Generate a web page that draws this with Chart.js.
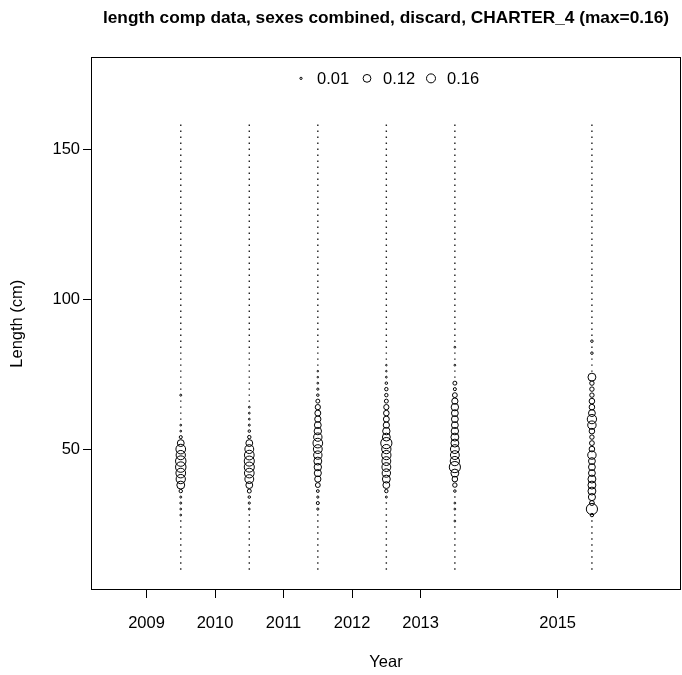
<!DOCTYPE html>
<html>
<head>
<title>length comp data, sexes combined, discard, CHARTER_4</title>
<script src="https://cdn.jsdelivr.net/npm/chart.js"></script>
<style>
  body { margin: 0; background: #fff; }
</style>
</head>
<body>
<canvas id="comp-chart" width="682" height="675"></canvas>
<script>
// bubble columns (x position of each year's column)
const years = [2009.5, 2010.5, 2011.5, 2012.5, 2013.5, 2015.5];
const yearTicks = [2009, 2010, 2011, 2012, 2013, 2015];
const lengthTicks = [50, 100, 150];
const lengthBins = [10, 12, 14, 16, 18, 20, 22, 24, 26, 28, 30, 32, 34, 36, 38, 40, 42, 44, 46, 48,
  50, 52, 54, 56, 58, 60, 62, 64, 66, 68, 70, 72, 74, 76, 78, 80, 82, 84, 86, 88,
  90, 92, 94, 96, 98, 100, 102, 104, 106, 108, 110, 112, 114, 116, 118, 120, 122, 124, 126, 128,
  130, 132, 134, 136, 138, 140, 142, 144, 146, 148, 150, 152, 154, 156, 158];

// non-zero observations per year
const len2009 = [28, 30, 32, 34, 36, 38, 40, 42, 44, 46, 48, 50, 52, 54, 56, 58, 68];
const comp2009 = [0.004, 0.004, 0.005, 0.005, 0.015, 0.08, 0.11, 0.12, 0.14, 0.14, 0.11, 0.12, 0.06, 0.012, 0.004, 0.004, 0.005];

const len2010 = [30, 32, 34, 36, 38, 40, 42, 44, 46, 48, 50, 52, 54, 56, 58, 60, 62, 64];
const comp2010 = [0.004, 0.006, 0.008, 0.02, 0.06, 0.10, 0.12, 0.13, 0.13, 0.12, 0.10, 0.06, 0.015, 0.008, 0.005, 0.004, 0.004, 0.004];

const len2011 = [30, 32, 34, 36, 38, 40, 42, 44, 46, 48, 50, 52, 54, 56, 58, 60, 62, 64, 66, 68, 70, 72, 74, 76];
const comp2011 = [0.006, 0.012, 0.006, 0.01, 0.03, 0.05, 0.065, 0.07, 0.08, 0.09, 0.10, 0.12, 0.09, 0.07, 0.06, 0.05, 0.045, 0.035, 0.02, 0.008, 0.006, 0.004, 0.003, 0.003];

const len2012 = [34, 36, 38, 40, 42, 44, 46, 48, 50, 52, 54, 56, 58, 60, 62, 64, 66, 68, 70, 72, 74, 76, 78];
const comp2012 = [0.005, 0.015, 0.06, 0.08, 0.09, 0.10, 0.10, 0.11, 0.11, 0.16, 0.08, 0.07, 0.05, 0.045, 0.04, 0.035, 0.02, 0.015, 0.015, 0.008, 0.004, 0.003, 0.003];

const len2013 = [26, 30, 32, 36, 38, 40, 42, 44, 46, 48, 50, 52, 54, 56, 58, 60, 62, 64, 66, 68, 70, 72, 78, 84];
const comp2013 = [0.004, 0.004, 0.004, 0.008, 0.025, 0.04, 0.08, 0.16, 0.11, 0.10, 0.10, 0.08, 0.08, 0.07, 0.06, 0.06, 0.06, 0.07, 0.05, 0.03, 0.012, 0.02, 0.004, 0.004];

const len2015 = [28, 30, 32, 34, 36, 38, 40, 42, 44, 46, 48, 50, 52, 54, 56, 58, 60, 62, 64, 66, 68, 70, 72, 74, 82, 86];
const comp2015 = [0.015, 0.16, 0.03, 0.065, 0.08, 0.08, 0.08, 0.06, 0.06, 0.06, 0.09, 0.04, 0.03, 0.025, 0.04, 0.09, 0.11, 0.06, 0.04, 0.04, 0.025, 0.025, 0.025, 0.08, 0.008, 0.008];

const legendValues = [0.01, 0.12, 0.16];
const maxComp = 0.16;

const obsLengths = [len2009, len2010, len2011, len2012, len2013, len2015];
const obsComps = [comp2009, comp2010, comp2011, comp2012, comp2013, comp2015];

function bubbleRadius(v, maxR) {
    return maxR * Math.sqrt(v / maxComp);
}

// zero bins drawn as small dots, observed bins as open circles
const zeroPoints = [];
const bubblePoints = [];
years.forEach((yr, i) => {
    lengthBins.forEach(len => {
        if (!obsLengths[i].includes(len)) zeroPoints.push({ x: yr, y: len });
    });
    obsLengths[i].forEach((len, j) => {
        bubblePoints.push({ x: yr, y: len, r: bubbleRadius(obsComps[i][j], 5.6) });
    });
});

const FONT = "'Liberation Sans', Arial, sans-serif";

// box around the plot region
const frame = {
    id: 'frame',
    afterDraw(chart) {
        const { ctx, chartArea: a } = chart;
        ctx.save();
        ctx.strokeStyle = '#000';
        ctx.lineWidth = 1;
        ctx.strokeRect(Math.round(a.left) + 0.5, Math.round(a.top) + 0.5,
            Math.round(a.right - a.left) - 1, Math.round(a.bottom - a.top) - 1);
        ctx.restore();
    }
};

// bubble size legend at the top of the plot
const sizeLegend = {
    id: 'sizeLegend',
    afterDatasetsDraw(chart) {
        const { ctx, chartArea: a } = chart;
        const cx = (a.left + a.right) / 2;
        const y = a.top + 21;
        const offsets = [-85, -19, 45];
        ctx.save();
        ctx.font = '16.5px ' + FONT;
        ctx.fillStyle = '#000';
        ctx.strokeStyle = '#000';
        ctx.lineWidth = 1;
        ctx.textBaseline = 'middle';
        ctx.textAlign = 'left';
        legendValues.forEach((v, i) => {
            const px = cx + offsets[i];
            ctx.beginPath();
            ctx.arc(px, y, bubbleRadius(v, 4.5), 0, Math.PI * 2);
            ctx.stroke();
            ctx.fillText(String(v), px + 16, y + 1);
        });
        ctx.restore();
    }
};

const ctx = document.getElementById('comp-chart').getContext('2d');
new Chart(ctx, {
    type: 'bubble',
    data: {
        datasets: [
            {
                label: 'zero',
                data: zeroPoints,
                radius: 1,
                pointStyle: 'rect',
                backgroundColor: '#222',
                borderWidth: 0
            },
            {
                label: 'comp',
                data: bubblePoints,
                backgroundColor: 'rgba(0,0,0,0)',
                borderColor: '#000',
                borderWidth: 1
            }
        ]
    },
    options: {
        responsive: false,
        animation: false,
        events: [],
        layout: { autoPadding: false, padding: { left: 0, right: 1, top: 0, bottom: 0 } },
        plugins: {
            legend: { display: false },
            tooltip: { enabled: false },
            title: {
                display: true,
                fullSize: false,
                text: 'length comp data, sexes combined, discard, CHARTER_4 (max=0.16)',
                color: '#000',
                font: { family: FONT, size: 17.3, weight: 'bold' },
                padding: { top: 8, bottom: 28.6 }
            }
        },
        scales: {
            x: {
                type: 'linear',
                min: 2008.19,
                max: 2016.8,
                afterBuildTicks: s => { s.ticks = yearTicks.map(v => ({ value: v })); },
                afterFit: s => { s.height = 85; s.paddingLeft = 0; s.paddingRight = 0; },
                grid: { drawOnChartArea: false, tickLength: 8, color: '#000' },
                border: { display: false },
                ticks: {
                    color: '#000', padding: 16, maxRotation: 0, autoSkip: false,
                    font: { family: FONT, size: 16.5 },
                    callback: v => String(v)
                },
                title: {
                    display: true, text: 'Year', color: '#000',
                    font: { family: FONT, size: 16.5 },
                    padding: { top: 0, bottom: 3 }
                }
            },
            y: {
                type: 'linear',
                min: 3,
                max: 180.67,
                afterBuildTicks: s => { s.ticks = lengthTicks.map(v => ({ value: v })); },
                afterFit: s => { s.width = 91; s.paddingTop = 0; s.paddingBottom = 0; },
                grid: { drawOnChartArea: false, tickLength: 8, color: '#000' },
                border: { display: false },
                ticks: {
                    color: '#000', padding: 3,
                    font: { family: FONT, size: 16.5 },
                    callback: v => String(v)
                },
                title: {
                    display: true, text: 'Length (cm)', color: '#000',
                    font: { family: FONT, size: 16.5 },
                    padding: { top: 8, bottom: 0 }
                }
            }
        }
    },
    plugins: [frame, sizeLegend]
});
</script>
</body>
</html>
